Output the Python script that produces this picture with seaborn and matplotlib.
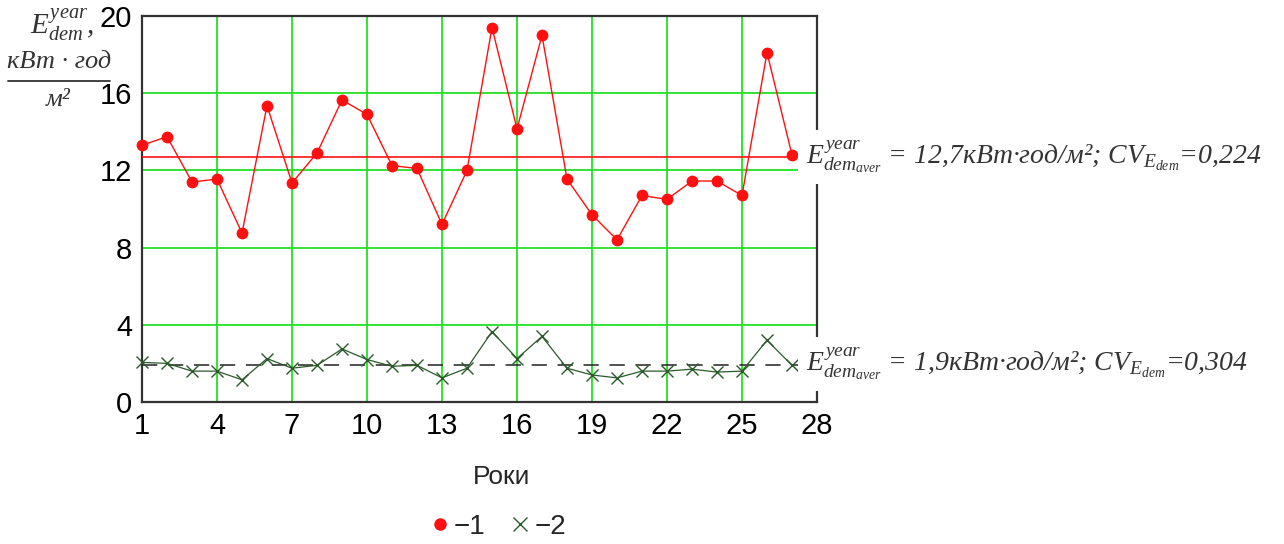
import matplotlib
matplotlib.use("Agg")
import matplotlib.pyplot as plt
from matplotlib.lines import Line2D
import numpy as np
import pandas as pd
import seaborn as sns

# Annual heat demand per square metre, years 1..27
years = list(range(1, 28))
demand_1 = [13.3, 13.75, 11.4, 11.55, 8.75, 15.35, 11.35, 12.9, 15.65, 14.9,
            12.25, 12.1, 9.2, 12.0, 19.4, 14.15, 19.0, 11.55, 9.7, 8.4,
            10.7, 10.5, 11.45, 11.45, 10.7, 18.1, 12.8]
demand_2 = [2.05, 2.0, 1.6, 1.6, 1.15, 2.25, 1.75, 1.9, 2.75, 2.2,
            1.85, 1.9, 1.25, 1.75, 3.65, 2.25, 3.4, 1.75, 1.4, 1.25,
            1.6, 1.6, 1.7, 1.55, 1.6, 3.2, 1.9]
mean_1, cv_1 = 12.7, "0,224"
mean_2, cv_2 = 1.9, "0,304"
x_ticks = [1, 4, 7, 10, 13, 16, 19, 22, 25, 28]
y_ticks = [0, 4, 8, 12, 16, 20]

sns.set_theme(style="white")
plt.rcParams["font.family"] = ["Liberation Sans", "DejaVu Sans"]
plt.rcParams["mathtext.fontset"] = "custom"
plt.rcParams["mathtext.it"] = "Liberation Serif:italic"
plt.rcParams["mathtext.rm"] = "Liberation Serif"

df = pd.DataFrame({"year": years, "d1": demand_1, "d2": demand_2})

fig = plt.figure(figsize=(12.84, 5.44), dpi=100)
ax = fig.add_axes([142 / 1284, 1 - 402 / 544, 675 / 1284, 386 / 544])

grid_c = "#22e022"
for xv in x_ticks[1:-1]:
    ax.axvline(xv, color=grid_c, lw=1.3, zorder=1)
for yv in y_ticks[1:-1]:
    ax.axhline(yv, color=grid_c, lw=1.3, zorder=1)

red = "#ff1010"
dark_green = "#2a5a2a"

sns.lineplot(data=df, x="year", y="d1", ax=ax, color=red, lw=1.0,
             marker="o", markersize=8.5, markeredgewidth=0, zorder=4, clip_on=False)
sns.lineplot(data=df, x="year", y="d2", ax=ax, color=dark_green, lw=0.9,
             marker="x", markersize=9, markeredgewidth=1.0,
             markeredgecolor=dark_green, zorder=4, clip_on=False)

ax.axhline(mean_1, color=red, lw=1.2, zorder=3)
ax.axhline(mean_2, color="#222222", lw=1.1, dashes=(10, 7), zorder=3)

ax.set_xlim(1, 28)
ax.set_ylim(0, 20)
ax.set_xticks(x_ticks)
ax.set_yticks(y_ticks)
ax.tick_params(axis="both", length=0, labelsize=21, colors="black", pad=7)
ax.set_xlabel("Роки", fontsize=19)
ax.xaxis.set_label_coords((502 - 142) / 675, -(465 - 402) / 386)
ax.set_ylabel("")

for side in ["left", "bottom", "top", "right"]:
    ax.spines[side].set_visible(True)
    ax.spines[side].set_color("#333333")
    ax.spines[side].set_linewidth(1.6)

# Mean value annotations to the right of the plot
ann_kw = dict(fontsize=20, fontstyle="italic", family="Liberation Serif",
              va="center", ha="left", color="#333333", zorder=10, clip_on=False,
              bbox=dict(boxstyle="square,pad=0.3", fc="white", ec="none"))
fig.text(806 / 1284, 1 - 157 / 544,
         r"$E^{year}_{dem_{aver}}$ = 12,7кВт·год/м²; CV$_{E_{dem}}$=" + cv_1, **ann_kw)
fig.text(806 / 1284, 1 - 364 / 544,
         r"$E^{year}_{dem_{aver}}$ = 1,9кВт·год/м²; CV$_{E_{dem}}$=" + cv_2, **ann_kw)

# Y-axis quantity and units
lab_kw = dict(fontstyle="italic", family="Liberation Serif", color="#333333",
              ha="center", va="center")
fig.text(62 / 1284, 1 - 26 / 544, r"$E^{year}_{dem}$,", fontsize=21, **lab_kw)
fig.text(59 / 1284, 1 - 62 / 544, "кВт · год", fontsize=19, **lab_kw)
fig.add_artist(Line2D([8 / 1284, 110 / 1284], [1 - 81 / 544, 1 - 81 / 544],
                      color="#333333", lw=1.3, transform=fig.transFigure))
fig.text(58 / 1284, 1 - 100 / 544, "м²", fontsize=19, **lab_kw)

handles = [Line2D([], [], color=red, marker="o", ls="none", markersize=9, markeredgewidth=0),
           Line2D([], [], color=dark_green, marker="x", ls="none", markersize=10, markeredgewidth=1.0)]
fig.legend(handles, ["−1", "−2"], loc="center", bbox_to_anchor=(498 / 1284, 1 - 527 / 544),
           ncol=2, frameon=False, fontsize=20, handlelength=0.7, handletextpad=0.15,
           columnspacing=0.9)

fig.savefig("out.png", dpi=100, facecolor="white")
